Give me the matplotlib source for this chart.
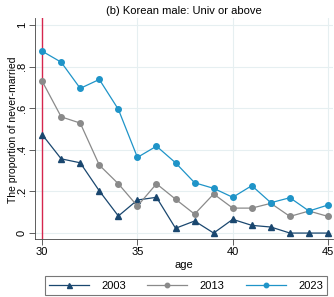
import matplotlib
matplotlib.use("Agg")
import matplotlib.pyplot as plt

plt.rcParams['font.family'] = ['Liberation Sans', 'DejaVu Sans']

ages = list(range(30, 46))
y2003 = [0.474, 0.357, 0.338, 0.203, 0.082, 0.159, 0.172, 0.023,
         0.058, 0.0, 0.066, 0.037, 0.029, 0.0, 0.0, 0.0]
y2013 = [0.731, 0.559, 0.529, 0.327, 0.237, 0.130, 0.237, 0.163,
         0.091, 0.188, 0.120, 0.120, 0.143, 0.080, 0.106, 0.080]
y2023 = [0.875, 0.822, 0.696, 0.739, 0.595, 0.364, 0.418, 0.338,
         0.242, 0.215, 0.172, 0.228, 0.146, 0.170, 0.106, 0.135]
yticks = [0, 0.2, 0.4, 0.6, 0.8, 1]
ytick_labels = ['0', '.2', '.4', '.6', '.8', '1']
xticks = [30, 35, 40, 45]

navy = '#1a476f'
gray = '#8a8a8a'
blue = '#1f94c8'
grid_c = '#e6eff1'

fig = plt.figure(figsize=(3.34, 2.97), dpi=100)
ax = fig.add_axes([0.105, 0.195, 0.892, 0.744])

ax.set_xlim(29.63, 45.26)
ax.set_ylim(-0.029, 1.034)

for x in xticks[1:]:
    ax.axvline(x, color=grid_c, lw=0.8, zorder=0)
for y in yticks:
    ax.axhline(y, color=grid_c, lw=0.8, zorder=0)

ax.axvline(30, color='#d6264d', lw=1.0, zorder=1)

l1, = ax.plot(ages, y2003, color=navy, lw=0.9, marker='^', ms=4.5, label='2003', zorder=3)
l2, = ax.plot(ages, y2013, color=gray, lw=0.9, marker='o', ms=4, label='2013', zorder=3)
l3, = ax.plot(ages, y2023, color=blue, lw=0.9, marker='o', ms=4, label='2023', zorder=3)

ax.set_xticks(xticks)
ax.set_yticks(yticks)
ax.set_yticklabels(ytick_labels, rotation=90, va='center')
ax.tick_params(labelsize=8, length=4, width=0.6, color='#444444', pad=2)
for s in ['top', 'right']:
    ax.spines[s].set_visible(False)
for s in ['left', 'bottom']:
    ax.spines[s].set_linewidth(0.6)
    ax.spines[s].set_color('#444444')

ax.set_xlabel('age', fontsize=8, labelpad=1.5)
ax.set_ylabel('The proportion of never-married', fontsize=7.5, va='center')
ax.yaxis.set_label_coords(-0.074, 0.493)
ax.set_title('(b) Korean male: Univ or above', fontsize=8, pad=3)

leg = fig.legend(handles=[l1, l2, l3], loc='lower left',
                 bbox_to_anchor=(0.117, -0.012, 0.88, 0.08), mode='expand',
                 ncol=3, fontsize=8, frameon=True, fancybox=False,
                 handlelength=3.6, handletextpad=1.1, borderpad=0.4,
                 columnspacing=2.5, markerscale=0.8)
leg.get_frame().set_edgecolor('#555555')
leg.get_frame().set_linewidth(0.8)

fig.savefig('out.png', dpi=100)
